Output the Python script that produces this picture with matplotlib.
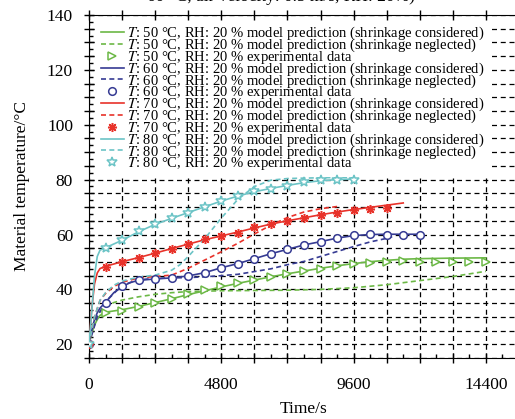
import matplotlib
matplotlib.use("Agg")
import matplotlib.pyplot as plt
from matplotlib.ticker import MultipleLocator, FuncFormatter

plt.rcParams['font.family'] = ['Liberation Serif', 'DejaVu Serif']
plt.rcParams['mathtext.fontset'] = 'stix'

# experimental data, one point every 600 s
t_exp_50 = [600 * i for i in range(25)]
T_exp_50 = [20, 31.5, 32.3, 33.5, 35.2, 36.6, 38.3, 39.6, 41.1, 42.2, 43.5, 44.5, 45.6,
            46.7, 47.6, 48.5, 49.2, 49.8, 50.1, 50.4, 50.0, 50.0, 50.0, 50.0, 50.0]
t_exp_60 = [600 * i for i in range(21)]
T_exp_60 = [20, 35.1, 41.2, 43.3, 43.7, 44.0, 44.9, 46.1, 47.9, 49.4, 51.2, 53.0, 54.6,
            56.2, 57.4, 58.7, 59.8, 60.1, 60.0, 60.0, 60.0]
t_exp_70 = [600 * i for i in range(19)]
T_exp_70 = [20, 48.2, 50.1, 51.6, 53.2, 54.9, 56.5, 58.3, 59.5, 60.7, 62.6, 63.8, 65.0,
            66.0, 67.2, 68.0, 68.9, 69.3, 69.6]
t_exp_80 = [600 * i for i in range(17)]
T_exp_80 = [20, 55.0, 57.9, 61.1, 63.8, 65.9, 68.0, 70.2, 72.3, 74.2, 75.7, 76.6, 77.8,
            79.0, 79.9, 80.0, 80.0]

# model prediction, shrinkage considered
t_s50 = [0, 100, 200, 300, 400, 600, 1200, 1800, 2400, 3000, 3600, 4200, 4800, 5400, 6000,
         6600, 7200, 7800, 8400, 9000, 9600, 10200, 10800, 11400, 12000, 13200, 14400]
T_s50 = [20, 24, 27, 29, 30.5, 31.7, 32.6, 33.8, 35.2, 36.6, 38.1, 39.5, 40.9, 42.2, 43.4,
         44.6, 45.7, 46.7, 47.7, 48.6, 49.4, 50.1, 50.6, 51.0, 51.2, 51.4, 51.5]
t_s60 = [0, 100, 200, 300, 400, 600, 900, 1200, 1500, 1800, 2400, 3000, 3600, 4200, 4800,
         5400, 6000, 6600, 7200, 7800, 8400, 9000, 9600, 10200, 10800, 11400, 12000]
T_s60 = [20, 25, 29, 31.5, 33.2, 35.3, 38.8, 41.0, 42.5, 43.3, 43.8, 44.2, 44.9, 46.1, 47.9,
         49.4, 51.2, 53.0, 54.6, 56.2, 57.4, 58.7, 59.6, 60.0, 60.1, 60.1, 60.1]
t_s70 = [0, 100, 200, 300, 400, 600, 1200, 1800, 2400, 3000, 3600, 4200, 4800, 5400, 6000,
         6600, 7200, 7800, 8400, 9000, 9600, 10200, 10800, 11400]
T_s70 = [20, 33, 42, 46, 47.6, 48.4, 50.1, 51.6, 53.2, 54.9, 56.5, 58.1, 59.5, 60.9, 62.4,
         63.8, 65.0, 66.1, 67.2, 68.2, 69.1, 69.9, 70.7, 71.5]
t_s80 = [0, 100, 200, 300, 400, 600, 1200, 1800, 2400, 3000, 3600, 4200, 4800, 5400, 6000,
         6600, 7200, 7800, 8400, 9000, 9600]
T_s80 = [20, 32, 45, 52, 54.3, 55.2, 57.9, 61.0, 63.7, 65.9, 68.0, 70.1, 72.2, 74.0, 75.6,
         76.8, 77.9, 78.9, 79.6, 80.0, 80.2]

# model prediction, shrinkage neglected
t_n50 = [0, 100, 200, 300, 400, 600, 900, 1200, 1800, 2400, 3000, 3600, 4800, 6000, 7200,
         8400, 9600, 10800, 12000, 13200, 14400]
T_n50 = [20, 25, 28.5, 30.5, 32, 33.8, 35.2, 36.1, 37.3, 38.2, 38.8, 39.2, 39.5, 39.6, 39.7,
         40.0, 40.6, 41.7, 43.2, 44.7, 46.6]
t_n60 = [0, 300, 600, 1200, 1800, 2400, 3000, 3600, 4200, 4800, 5400, 6000, 6600, 7200,
         7800, 8400, 9000, 9600, 10200, 10800, 11000]
T_n60 = [20, 30, 35.5, 41.5, 43.5, 44.0, 44.2, 44.3, 44.6, 45.0, 45.5, 46.5, 47.5, 49.0,
         50.2, 52.0, 53.8, 55.6, 57.3, 58.6, 59.2]
t_n70 = [0, 200, 400, 600, 900, 1200, 1800, 2400, 3000, 3600, 4200, 4800, 5400, 6000, 6600,
         7200, 7800, 8400, 9000]
T_n70 = [20, 30, 36, 38.5, 41, 42.6, 44.2, 44.7, 45.2, 47.7, 50.7, 53.7, 56.8, 60.2, 63.4,
         66.2, 68.2, 69.4, 70.2]
t_n80 = [0, 200, 400, 600, 900, 1200, 1800, 2400, 3000, 3300, 3600, 4200, 4800, 5400, 6000,
         6600, 7200, 8400, 9600]
T_n80 = [20, 30, 36, 38.8, 41.5, 43, 44.5, 45.2, 47, 49, 52, 58.5, 66, 72.8, 77.5, 79.8,
         80.4, 80.7, 80.8]

temps = ['50', '60', '70', '80']
colors = ['#6cb846', '#363b93', '#e8322a', '#6cc4c6']
markers = ['>', 'o', (8, 2, 0), '*']
msizes = [6, 5.5, 6.5, 7]
solid = [(t_s50, T_s50), (t_s60, T_s60), (t_s70, T_s70), (t_s80, T_s80)]
dashed = [(t_n50, T_n50), (t_n60, T_n60), (t_n70, T_n70), (t_n80, T_n80)]
exp = [(t_exp_50, T_exp_50), (t_exp_60, T_exp_60), (t_exp_70, T_exp_70), (t_exp_80, T_exp_80)]

fig = plt.figure(figsize=(5.15, 4.19), dpi=100)
ax = fig.add_axes([0.1728, 0.1456, 0.835, 0.8186])

for i in range(4):
    c = colors[i]
    pre = '$T$: ' + temps[i] + ' °C, RH: 20 % '
    ax.plot(solid[i][0], solid[i][1], '-', color=c, lw=1.2,
            label=pre + 'model prediction (shrinkage considered)', zorder=3)
    ax.plot(dashed[i][0], dashed[i][1], '--', color=c, lw=1.2, dashes=(3, 2),
            label=pre + 'model prediction (shrinkage neglected)', zorder=3)
    ax.plot(exp[i][0], exp[i][1], ls='none', marker=markers[i], color=c, ms=msizes[i],
            mfc='white' if i != 2 else c, mew=1.1,
            label=pre + 'experimental data', zorder=6)

ax.set_xlim(0, 15600)
ax.set_ylim(15, 140)

ax.xaxis.set_major_locator(MultipleLocator(1200))
ax.xaxis.set_minor_locator(MultipleLocator(600))
ax.xaxis.set_major_formatter(FuncFormatter(lambda v, p: '%d' % v if v % 4800 == 0 else ''))
ax.yaxis.set_major_locator(MultipleLocator(5))
ax.yaxis.set_minor_locator(MultipleLocator(2.5))
ax.yaxis.set_major_formatter(FuncFormatter(lambda v, p: '%d' % v if v % 20 == 0 else ''))

ax.tick_params(axis='both', which='major', direction='inout', length=7, width=1,
               labelsize=12.5, top=True, right=False)
ax.tick_params(axis='both', which='minor', direction='in', length=3, width=1, top=False)
ax.tick_params(axis='x', which='major', pad=10)
ax.tick_params(axis='y', which='major', pad=8)

ax.grid(True, which='major', color='black', ls=(0, (4, 3)), lw=0.9)
ax.set_axisbelow(True)
ax.spines['right'].set_visible(False)

ax.set_xlabel('Time/s', fontsize=12.5, labelpad=6)
ax.set_ylabel('Material temperature/°C', fontsize=12.5, labelpad=12)

leg = ax.legend(loc='upper left', bbox_to_anchor=(0.0, 1.005), fontsize=10.5,
                labelspacing=-0.37, handlelength=1.6, handletextpad=0.2,
                borderpad=0.3, frameon=True, fancybox=False, framealpha=1)
leg.get_frame().set_edgecolor('none')
leg.set_zorder(5)

fig.text(147 / 515, 1 - 1 / 419, '60 °C, air velocity: 0.5 m/s, RH: 20%)',
         fontsize=12.5, ha='left', va='baseline')

fig.savefig('out.png', dpi=100)
